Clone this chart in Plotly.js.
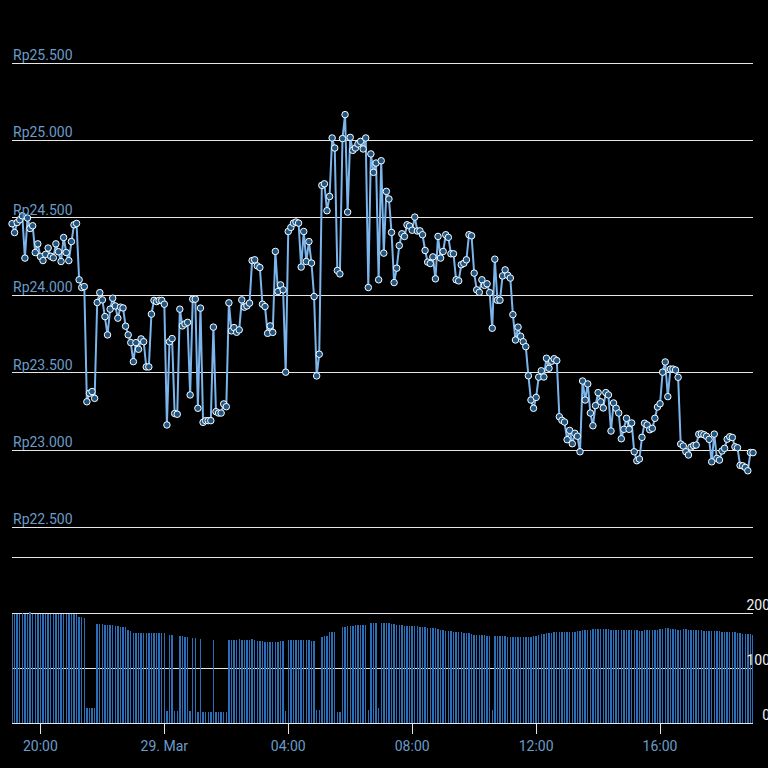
<!DOCTYPE html>
<html><head><meta charset="utf-8">
<script src="https://cdn.plot.ly/plotly-3.0.1.min.js"></script>
<style>html,body{margin:0;padding:0;background:#000;} #chart{width:768px;height:768px;}</style>
</head><body><div id="chart"></div>
<script>
// ---- data ----
const startTime = '2024-03-28T19:05:00Z';
const stepMinutes = 5;

const priceValues = [
 24462,24405,24470,24488,24513,24240,24499,24431,24449,24276,24332,24250,
 24224,24264,24305,24252,24242,24332,24281,24218,24373,24276,24224,24347,24455,24464,24100,24050,24056,
 23312,23367,23378,23334,
 23953,24017,23970,23862,23744,23910,23981,23931,23852,23923,23918,23800,23744,23694,23571,23694,23651,23718,23700,23537,23537,23878,23967,23959,23967,23967,23942,
 23162,23700,23720,23236,23231,23910,23802,23815,23825,23356,23975,23975,23270,23917,23179,23190,23190,23190,23794,23248,23239,23239,23298,23280,
 23951,23770,23791,23761,23776,23970,23923,23931,23949,
 24224,24229,24190,24179,23942,23927,23754,23802,23760,24283,24024,24067,24035,23503,24412,
 24438,24466,24473,24466,24182,24412,24218,24347,24208,23992,23479,23619,24710,24720,24546,24638,25016,24951,24160,24138,25012,25167,24537,25020,24936,24951,24977,24994,24945,25016,24050,24913,
 24794,24854,24100,24869,24272,24671,24622,24406,24082,24175,24321,24397,24380,24455,24447,24420,24505,24415,24416,24391,24289,24214,24205,24248,24106,24380,24240,24283,24391,24374,24268,24268,24100,24093,24197,24206,24229,24391,24384,24143,24035,24019,24100,24064,24074,24017,23787,
 24233,23968,23968,24125,24164,24129,24111,23875,23711,23794,23735,23700,23668,23480,23323,23270,23340,23471,23512,23472,23593,23528,23574,23590,23578,23215,23192,23181,23067,23127,23041,23108,23089,22989,23446,23323,23427,
 23239,23157,23287,23371,23312,23272,23371,23356,23123,23304,23270,23239,23073,23134,23205,23134,23175,22989,22931,22942,23082,23173,23162,23131,23140,23205,23278,23299,23503,23569,23345,23523,23523,23517,23470,23039,23026,22989,22968,23019,23029,23032,23102,23105,23099,23089,23069,22924,23103,22946,22935,22994,23011,23070,23086,23081,23021,23015,22901,22898,22888,22866,22984,22983
];

const volumeValues = [
 199,199,199,199,200,199,199,201,199,199,199,199,199,199,199,199,199,199,199,199,199,199,199,199,199,199,
 193,192,191,
 28,27,27,28,
 180,180,180,179,179,178,
 178,177,177,174,174,175,
 169,167,
 164,163,163,163,163,163,163,163,163,163,163,163,163,
 22,
 160,160,
 21,21,
 158,158,157,156,
 21,
 155,155,
 20,
 153,
 20,20,20,20,
 151,
 20,20,20,20,20,
 151,151,151,151,152,151,151,151,151,153,151,150,149,149,148,148,147,147,148,148,149,149,
 21,
 151,151,151,151,151,151,151,151,151,150,150,
 24,24,
 157,158,159,165,165,166,
 20,20,
 174,175,176,177,177,178,178,178,179,179,
 24,
 181,181,181,
 27,
 181,181,181,181,180,180,179,178,178,177,177,177,176,176,176,175,175,174,173,173,172,172,171,170,169,168,168,167,166,166,165,165,164,164,163,161,160,160,160,160,160,159,159,
 24,
 159,159,158,158,158,157,157,157,157,156,156,156,156,156,157,158,159,160,161,162,163,164,164,165,165,165,165,165,166,166,166,166,167,168,170,170,170,170,171,171,171,171,171,171,171,170,170,170,169,169,170,170,170,170,169,169,168,168,169,169,170,170,170,170,171,171,172,172,171,171,171,170,170,171,171,170,170,170,170,169,169,168,168,168,167,167,167,167,166,166,166,166,165,165,164,163,162,161,161,161,160
];

const priceTickVals = [22500, 23000, 23500, 24000, 24500, 25000, 25500];
const priceTickText = ['Rp22.500','Rp23.000','Rp23.500','Rp24.000','Rp24.500','Rp25.000','Rp25.500'];
const volumeTickVals = [0, 100, 200];
const volumeTickText = ['0', '100', '200'];
const timeTickVals = ['2024-03-28 20:00','2024-03-29 00:00','2024-03-29 04:00','2024-03-29 08:00','2024-03-29 12:00','2024-03-29 16:00'];
const timeTickText = ['20:00','29. Mar','04:00','08:00','12:00','16:00'];

// ---- build ----
console.log('lengths', priceValues.length, volumeValues.length);
const pad2 = n => String(n).padStart(2, '0');
const fmt = d => d.getUTCFullYear() + '-' + pad2(d.getUTCMonth()+1) + '-' + pad2(d.getUTCDate()) + ' ' + pad2(d.getUTCHours()) + ':' + pad2(d.getUTCMinutes());
const t0 = Date.parse(startTime);
const times = priceValues.map((_, i) => fmt(new Date(t0 + i * stepMinutes * 60000)));

const H = 768, W = 768;
const fy = px => 1 - px / H;
const xDom = [12 / W, 753 / W];
const gridC = '#e6e6e6';
const labelC = '#6a9cc9';
const FONT = 'Roboto, sans-serif';

const volumeTrace = {
  type: 'bar', x: times, y: volumeValues, xaxis: 'x', yaxis: 'y2',
  width: 165000,
  marker: {color: '#2a6fb8', line: {width: 0}},
  hoverinfo: 'skip'
};
const priceTrace = {
  type: 'scatter', mode: 'lines+markers', x: times, y: priceValues, xaxis: 'x2', yaxis: 'y',
  line: {color: '#7cb5ec', width: 2},
  marker: {size: 6.5, color: '#1f5582', line: {color: '#ffffff', width: 1}},
  cliponaxis: false
};

const layout = {
  width: W, height: H,
  margin: {l: 0, r: 0, t: 0, b: 0, pad: 0},
  paper_bgcolor: '#000', plot_bgcolor: '#000',
  font: {family: FONT, size: 14, color: labelC},
  showlegend: false,
  xaxis: {
    domain: xDom, anchor: 'y2', type: 'date',
    range: [times[0], times[times.length - 1]],
    tickmode: 'array', tickvals: timeTickVals, ticktext: timeTickText,
    ticks: 'outside', ticklen: 10, tickcolor: gridC, tickwidth: 1,
    showline: true, linecolor: gridC, linewidth: 1,
    showgrid: false, zeroline: false,
    tickfont: {family: FONT, size: 14, color: labelC}
  },
  xaxis2: {
    domain: xDom, anchor: 'y', matches: 'x', type: 'date',
    showticklabels: false, ticks: '',
    showline: true, linecolor: gridC, linewidth: 1,
    showgrid: false, zeroline: false
  },
  yaxis: {
    domain: [fy(557), fy(40)], range: [22309, 25649],
    tickmode: 'array', tickvals: priceTickVals, ticktext: priceTickText,
    ticklabelposition: 'inside', side: 'left',
    ticklabelshift: -8, ticklabelstandoff: -2,
    ticks: '', showline: false, zeroline: false,
    showgrid: true, gridcolor: gridC, gridwidth: 1,
    tickfont: {family: FONT, size: 14, color: labelC}
  },
  yaxis2: {
    domain: [fy(723), fy(590)], range: [0, 200 * 133 / 110],
    tickmode: 'array', tickvals: volumeTickVals, ticktext: volumeTickText,
    ticklabelposition: 'inside', side: 'right',
    ticklabelshift: -8, ticklabelstandoff: -20,
    ticks: '', showline: false, zeroline: false,
    showgrid: true, gridcolor: gridC, gridwidth: 1,
    tickfont: {family: FONT, size: 14, color: '#f0f0f0'}
  },
  bargap: 0
};

Plotly.newPlot('chart', [volumeTrace, priceTrace], layout, {staticPlot: true, displayModeBar: false});
</script>
</body></html>
